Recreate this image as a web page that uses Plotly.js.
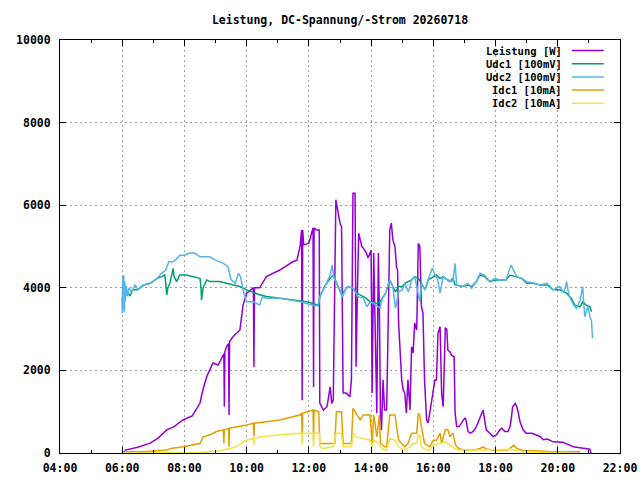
<!DOCTYPE html>
<html>
<head>
<meta charset="utf-8">
<script src="https://cdn.plot.ly/plotly-3.0.1.min.js"></script>
<style>
  html, body { margin: 0; padding: 0; background: #fff; }
  #chart { width: 640px; height: 480px; }
</style>
</head>
<body>
<div id="chart"></div>
<script>
const DAY = '2026-07-18';
const TITLE = 'Leistung, DC-Spannung/-Strom 20260718';

const SERIES_NAMES = ['Leistung [W]', 'Udc1 [100mV]', 'Udc2 [100mV]', 'Idc1 [10mA]', 'Idc2 [10mA]'];
const SERIES_COLORS = ['#9400d3', '#009e73', '#56b4e9', '#e69f00', '#f0e442'];

const timeP = [
  '06:03', '06:06', '06:30', '06:54', '07:09', '07:26', '07:40', '07:57', '08:15', '08:30',
  '08:35', '08:43', '08:55', '09:05', '09:12', '09:16', '09:17', '09:18', '09:21', '09:25',
  '09:26', '09:27', '09:34', '09:47', '09:53', '10:00', '10:08', '10:13', '10:14', '10:15',
  '10:25', '10:38', '11:04', '11:29', '11:37', '11:43', '11:46', '11:47', '11:48', '11:50',
  '12:00', '12:05', '12:08', '12:09', '12:10', '12:15', '12:20', '12:21', '12:28', '12:35',
  '12:41', '12:44', '12:47', '12:52', '12:56', '13:00', '13:03', '13:06', '13:12', '13:19',
  '13:22', '13:25', '13:29', '13:31', '13:33', '13:36', '13:39', '13:42', '13:45', '13:48',
  '13:51', '13:54', '13:58', '14:00', '14:02', '14:05', '14:11', '14:14', '14:16', '14:18',
  '14:20', '14:23', '14:26', '14:30', '14:36', '14:39', '14:42', '14:46', '14:49', '14:51',
  '14:53', '14:59', '15:02', '15:05', '15:08', '15:11', '15:15', '15:18', '15:21', '15:24',
  '15:28', '15:31', '15:34', '15:37', '15:40', '15:43', '15:47', '15:50', '15:53', '15:55',
  '15:58', '16:03', '16:06', '16:09', '16:13', '16:16', '16:19', '16:23', '16:26', '16:28',
  '16:32', '16:35', '16:40', '16:42', '16:45', '16:50', '16:58', '17:02', '17:04', '17:07',
  '17:11', '17:17', '17:23', '17:30', '17:36', '17:39', '17:42', '17:49', '17:55', '18:02',
  '18:08', '18:12', '18:18', '18:24', '18:28', '18:30', '18:33', '18:38', '18:41', '18:44',
  '18:47', '18:53', '18:59', '19:10', '19:18', '19:26', '19:32', '19:40', '19:51', '20:04',
  '20:10', '20:17', '20:23', '20:30', '20:36', '20:48', '20:55', '21:02', '21:04'
];
const leistung = [
  0, 70, 140, 240, 360, 560, 640, 800, 900, 1210,
  1500, 1850, 2180, 2130, 2300, 2400, 1120, 2450, 2570, 2650,
  920, 2700, 2820, 2980, 3580, 3870, 3950, 4000, 2080, 4000,
  4000, 4270, 4430, 4630, 4670, 5000, 5400, 1280, 5400, 5040,
  5080, 5320, 5450, 1600, 5450, 5400, 5400, 1210, 1040, 1120,
  1600, 1200, 1280, 6130, 5800, 5570, 5480, 1450, 1450, 1360,
  1770, 6290, 6290, 2090, 3540, 5320, 5160, 5000, 4960, 4910,
  4840, 4720, 4870, 4910, 1450, 4840, 960, 4840, 3390, 960,
  550, 1770, 1040, 1040, 5400, 5570, 5160, 5000, 4510, 4430,
  3150, 1770, 1520, 1450, 970, 1770, 1040, 2570, 2420, 3150,
  2980, 5080, 5000, 3540, 3390, 1770, 800, 730, 960, 1120,
  1450, 1770, 1770, 2900, 3060, 1450, 1120, 3030, 3000, 2490,
  2450, 2370, 2330, 970, 640, 640, 800, 850, 730, 520,
  480, 520, 640, 880, 1040, 800, 560, 480, 400, 440,
  560, 600, 520, 520, 640, 800, 1120, 1200, 1120, 970,
  760, 560, 480, 480, 440, 400, 320, 340, 270, 270,
  260, 220, 190, 150, 140, 110, 90, 90, 0
];

const timeU1 = [
  '06:00', '06:01', '06:02', '06:04', '06:06', '06:10', '06:15', '06:20', '06:30', '06:42',
  '06:54', '07:07', '07:16', '07:22', '07:24', '07:26', '07:28', '07:32', '07:36', '07:38',
  '07:40', '07:45', '07:51', '08:04', '08:17', '08:30', '08:32', '08:33', '08:36', '08:40',
  '08:43', '08:49', '09:08', '09:21', '09:34', '09:47', '10:00', '10:13', '10:25', '10:38',
  '11:04', '11:29', '11:43', '11:55', '12:08', '12:18', '12:21', '12:30', '12:41', '12:47',
  '12:51', '13:00', '13:03', '13:10', '13:15', '13:25', '13:32', '13:39', '13:50', '13:58',
  '14:10', '14:17', '14:22', '14:28', '14:36', '14:42', '14:47', '14:53', '15:00', '15:05',
  '15:18', '15:24', '15:31', '15:37', '15:44', '15:50', '16:00', '16:06', '16:13', '16:19',
  '16:23', '16:28', '16:32', '16:38', '16:42', '16:55', '17:07', '17:14', '17:23', '17:30',
  '17:39', '17:49', '17:59', '18:08', '18:20', '18:28', '18:41', '18:50', '19:00', '19:13',
  '19:26', '19:39', '19:51', '20:04', '20:17', '20:26', '20:33', '20:43', '20:48', '20:55',
  '21:02', '21:05'
];
const udc1 = [
  3780, 3460, 3900, 3600, 3850, 3900, 3800, 3950, 3950, 4070,
  4110, 4230, 4270, 4310, 4100, 3830, 4000, 4110, 4350, 4470,
  4270, 4150, 4310, 4310, 4270, 4230, 4000, 3700, 4000, 4110,
  4190, 4150, 4150, 4110, 4070, 4030, 3950, 3880, 3830, 3790,
  3750, 3700, 3680, 3660, 3620, 3580, 3780, 4030, 4230, 4310,
  4190, 3950, 3830, 3950, 4030, 3990, 3870, 3830, 3750, 3660,
  3620, 3660, 3750, 3870, 4190, 4030, 3900, 4030, 4030, 4110,
  4190, 4270, 4230, 4110, 3950, 4190, 4270, 4310, 4230, 4270,
  4230, 4190, 4150, 4230, 4070, 4030, 4070, 4030, 4150, 4310,
  4270, 4150, 4190, 4190, 4190, 4310, 4270, 4230, 4110, 4110,
  4070, 4070, 3950, 3950, 3870, 3750, 3580, 3540, 3660, 3580,
  3540, 3420
];

const timeU2 = [
  '06:00', '06:01', '06:02', '06:03', '06:04', '06:05', '06:06', '06:08', '06:10', '06:13',
  '06:18', '06:25', '06:30', '06:40', '06:54', '07:05', '07:16', '07:24', '07:30', '07:38',
  '07:45', '07:51', '08:00', '08:10', '08:20', '08:30', '08:49', '09:00', '09:15', '09:24',
  '09:30', '09:38', '09:44', '09:48', '09:54', '10:00', '10:13', '10:25', '10:30', '10:38',
  '11:04', '11:29', '11:43', '12:08', '12:18', '12:21', '12:30', '12:41', '12:45', '12:48',
  '13:00', '13:05', '13:10', '13:15', '13:25', '13:35', '13:45', '13:52', '13:58', '14:05',
  '14:17', '14:22', '14:28', '14:36', '14:42', '14:47', '14:53', '15:00', '15:05', '15:12',
  '15:18', '15:24', '15:31', '15:34', '15:37', '15:44', '15:50', '15:58', '16:03', '16:08',
  '16:13', '16:19', '16:28', '16:38', '16:42', '16:45', '16:55', '17:07', '17:14', '17:23',
  '17:30', '17:39', '17:49', '17:59', '18:08', '18:20', '18:30', '18:35', '18:41', '18:50',
  '19:00', '19:13', '19:26', '19:39', '19:51', '20:04', '20:12', '20:17', '20:22', '20:30',
  '20:36', '20:43', '20:48', '20:52', '20:58', '21:02', '21:05', '21:07'
];
const udc2 = [
  3380, 4270, 3500, 4300, 3400, 4150, 3700, 4050, 3800, 4000,
  3900, 4070, 3950, 4070, 4110, 4200, 4350, 4430, 4630, 4630,
  4700, 4790, 4790, 4840, 4840, 4750, 4750, 4670, 4590, 4510,
  4190, 4110, 4350, 4270, 3900, 3660, 3660, 3580, 3780, 3750,
  3750, 3700, 3660, 3580, 3560, 3780, 4000, 4310, 4550, 4250,
  3950, 3780, 3950, 4030, 3990, 3780, 3750, 3540, 3660, 3620,
  3510, 3750, 3870, 4190, 4030, 3510, 3900, 3950, 4110, 3900,
  4190, 4270, 3790, 3660, 4110, 3950, 4190, 4480, 4310, 4230,
  3870, 4270, 4190, 4150, 4590, 4070, 4030, 4100, 3990, 4150,
  4350, 4300, 4150, 4230, 4190, 4190, 4550, 4430, 4270, 4230,
  4150, 4110, 4070, 4110, 3950, 4030, 3870, 4150, 3800, 3600,
  3500, 3700, 4030, 3300, 3550, 3300, 3200, 2780
];

const timeI1 = [
  '06:00', '06:40', '07:26', '07:33', '07:58', '08:30', '08:36', '08:49', '09:02', '09:15',
  '09:16', '09:17', '09:25', '09:26', '09:27', '09:47', '10:00', '10:13', '10:14', '10:15',
  '10:38', '11:04', '11:29', '11:43', '11:46', '11:47', '11:48', '12:00', '12:08', '12:09',
  '12:10', '12:19', '12:21', '12:50', '12:53', '13:03', '13:06', '13:22', '13:25', '13:31',
  '13:39', '13:45', '13:58', '14:02', '14:05', '14:11', '14:16', '14:18', '14:26', '14:30',
  '14:36', '14:46', '14:49', '14:53', '15:05', '15:11', '15:18', '15:28', '15:31', '15:34',
  '15:37', '15:43', '15:53', '16:00', '16:06', '16:13', '16:16', '16:23', '16:28', '16:32',
  '16:38', '16:42', '16:45', '16:50', '16:58', '17:17', '17:30', '17:36', '17:42', '17:55',
  '18:24', '18:30', '18:35', '18:41', '18:53', '19:26', '19:50', '20:43'
];
const idc1 = [
  30, 30, 70, 110, 150, 230, 390, 440, 520, 560,
  230, 560, 590, 150, 600, 640, 680, 720, 400, 720,
  760, 800, 880, 920, 960, 360, 960, 1000, 1040, 310,
  1040, 1000, 230, 230, 1000, 1000, 230, 230, 1080, 960,
  800, 920, 920, 230, 920, 390, 920, 230, 150, 150,
  920, 920, 640, 310, 150, 230, 480, 480, 960, 920,
  640, 230, 150, 310, 310, 480, 230, 560, 560, 390,
  480, 230, 150, 110, 70, 70, 110, 150, 100, 70,
  70, 150, 190, 110, 60, 50, 30, 30
];

const timeI2 = [
  '06:00', '07:30', '08:30', '09:08', '09:28', '09:40', '09:53', '10:00', '10:13', '10:14',
  '10:15', '10:25', '11:04', '11:43', '11:46', '11:47', '11:48', '12:08', '12:09', '12:10',
  '12:20', '12:21', '12:27', '12:47', '12:53', '13:03', '13:06', '13:22', '13:26', '13:31',
  '13:42', '13:58', '14:02', '14:05', '14:16', '14:18', '14:26', '14:30', '14:36', '14:46',
  '14:53', '15:05', '15:15', '15:21', '15:28', '15:31', '15:34', '15:37', '15:47', '15:53',
  '16:00', '16:13', '16:23', '16:32', '16:42', '16:50', '17:30', '18:30', '18:41', '18:53',
  '19:26', '20:20'
];
const idc2 = [
  0, 10, 10, 50, 110, 150, 270, 310, 350, 200,
  350, 390, 440, 480, 480, 200, 480, 480, 150, 480,
  480, 150, 110, 150, 480, 480, 150, 150, 480, 390,
  350, 310, 150, 310, 230, 150, 70, 70, 350, 310,
  150, 70, 150, 230, 230, 440, 420, 150, 70, 70,
  190, 230, 270, 190, 110, 70, 70, 90, 60, 30,
  15, 15
];

const X_TICK_HOURS = ['04:00', '22:00'];
const Y_RANGE = [0, 10000];

const at = t => DAY + ' ' + t + ':00';

const seriesX = [timeP, timeU1, timeU2, timeI1, timeI2];
const seriesY = [leistung, udc1, udc2, idc1, idc2];

const traces = seriesX.map((xs, i) => ({
  x: xs.map(at),
  y: seriesY[i],
  name: SERIES_NAMES[i],
  type: 'scatter',
  mode: 'lines',
  line: { color: SERIES_COLORS[i], width: 1.5 },
  hoverinfo: 'skip',
  showlegend: false
}));

// gnuplot-style key: text right-aligned, sample line to its right
const FONT = { family: 'DejaVu Sans Mono, monospace', size: 11.5, color: '#000', weight: 'bold' };
const KEY_FONT = Object.assign({}, FONT, { size: 10.5 });
const keyTop = 50.5, keyStep = 13.2, plotTop = 40, plotH = 413;
const annotations = [];
const shapes = [];
SERIES_NAMES.forEach((name, i) => {
  const py = keyTop + i * keyStep;
  const yp = 1 - (py - plotTop) / plotH;
  annotations.push({
    xref: 'paper', yref: 'paper', x: 0.899, y: yp,
    xanchor: 'right', yanchor: 'middle', showarrow: false,
    borderpad: 0,
    text: name, font: KEY_FONT
  });
  shapes.push({
    type: 'line', xref: 'paper', yref: 'paper',
    x0: 0.914, x1: 0.971, y0: yp, y1: yp,
    line: { color: SERIES_COLORS[i], width: 1.5 }
  });
});

const gridStyle = { gridcolor: '#a0a0a0', griddash: '2px,3px', gridwidth: 1 };

const layout = {
  width: 640,
  height: 480,
  paper_bgcolor: '#fff',
  plot_bgcolor: '#fff',
  margin: { l: 60, r: 20, t: 40, b: 27 },
  title: {
    text: TITLE,
    font: FONT,
    x: 0.5, xref: 'paper', xanchor: 'center',
    y: 1 - 20 / 480, yanchor: 'middle'
  },
  font: FONT,
  showlegend: false,
  xaxis: Object.assign({
    type: 'date',
    range: X_TICK_HOURS.map(at),
    dtick: 7200000,
    tick0: at('04:00'),
    tickformat: '%H:%M',
    ticks: 'inside', ticklen: 6, tickcolor: '#000',
    showline: true, linecolor: '#000', linewidth: 1, mirror: 'ticks',
    ticklabelstandoff: 4,
    minor: { dtick: 3600000, ticks: 'inside', ticklen: 3, tickcolor: '#000', showgrid: false },
    zeroline: false,
    tickfont: FONT
  }, gridStyle),
  yaxis: Object.assign({
    range: Y_RANGE,
    dtick: 2000,
    tickformat: 'd',
    ticks: 'inside', ticklen: 6, tickcolor: '#000',
    showline: true, linecolor: '#000', linewidth: 1, mirror: 'ticks',
    ticklabelstandoff: 6,
    zeroline: false,
    tickfont: FONT
  }, gridStyle),
  annotations: annotations,
  shapes: shapes
};

Plotly.newPlot('chart', traces, layout, { staticPlot: true, displayModeBar: false });
</script>
</body>
</html>
